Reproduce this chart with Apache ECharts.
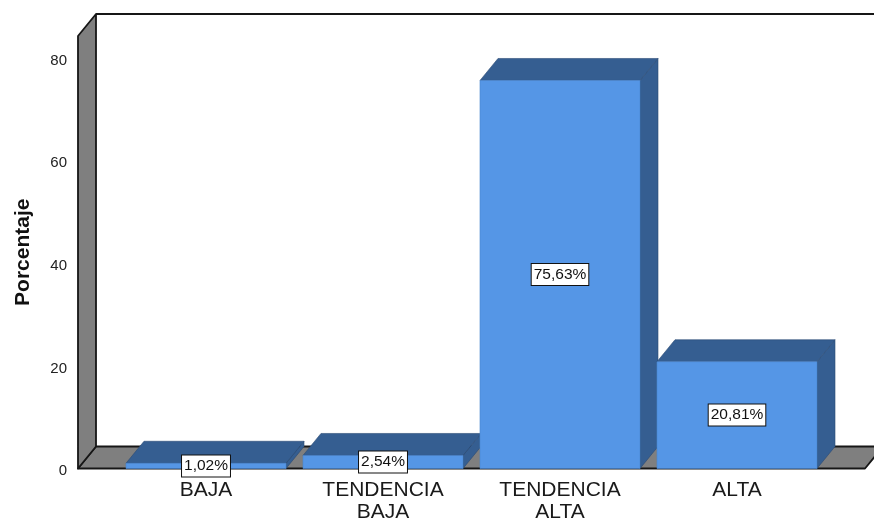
<!DOCTYPE html>
<html>
<head>
<meta charset="utf-8">
<script src="https://cdn.jsdelivr.net/npm/echarts@6/dist/echarts.min.js"></script>
<style>
  html, body { margin: 0; padding: 0; background: #ffffff; }
  #chart { width: 874px; height: 520px; }
</style>
</head>
<body>
<div id="chart"></div>
<script>
// Nivel alcanzado (porcentaje de casos)
const categories = ['BAJA', 'TENDENCIA\nBAJA', 'TENDENCIA\nALTA', 'ALTA'];
const percentages = [1.02, 2.54, 75.63, 20.81];
const yTicks = [0, 20, 40, 60, 80];
const yAxisMax = 84.3;

// Styling for the pseudo-3D look
const FRONT = '#5596e6';
const SHADE = '#355e91';
const EDGE = '#2a4a73';
const WALL = '#7f7f7f';
const LINE = '#161616';
const DX = 18;          // depth offset, horizontal
const DY = 22;          // depth offset, vertical
const BAR_RATIO = 0.904;
const WALL_PAD = 39.5;  // room extends past the first/last category band
const FONT = '"Liberation Sans", Arial, sans-serif';

function fmtPct(v) {
  return v.toFixed(2).replace('.', ',') + '%';
}

function renderRoom(params, api) {
  const cs = params.coordSys;
  const yb = api.coord([0, 0])[1];
  const yt = api.coord([0, yAxisMax])[1];
  const L = cs.x - WALL_PAD;
  const R = cs.x + cs.width + WALL_PAD;
  const lineStyle = { fill: WALL, stroke: LINE, lineWidth: 1.8, lineJoin: 'round' };
  return {
    type: 'group',
    children: [
      { type: 'polygon', shape: { points: [[L, yb], [R, yb], [R + DX, yb - DY], [L + DX, yb - DY]] }, style: lineStyle },
      { type: 'polygon', shape: { points: [[L, yb], [L, yt], [L + DX, yt - DY], [L + DX, yb - DY]] }, style: lineStyle },
      { type: 'line', shape: { x1: L + DX, y1: yt - DY, x2: R + DX, y2: yt - DY }, style: { stroke: LINE, lineWidth: 1.8 } }
    ]
  };
}

function renderBar(params, api) {
  const i = api.value(0);
  const v = api.value(1);
  const top = api.coord([i, v]);
  const base = api.coord([i, 0]);
  const band = api.size([1, 0])[0];
  const w = band * BAR_RATIO;
  const x0 = top[0] - w / 2;
  const x1 = top[0] + w / 2;
  const yt = top[1];
  const yb = base[1];
  return {
    type: 'group',
    children: [
      { type: 'polygon', shape: { points: [[x1, yt], [x1 + DX, yt - DY], [x1 + DX, yb - DY], [x1, yb]] },
        style: { fill: SHADE, stroke: EDGE, lineWidth: 0.6 } },
      { type: 'polygon', shape: { points: [[x0, yt], [x0 + DX, yt - DY], [x1 + DX, yt - DY], [x1, yt]] },
        style: { fill: SHADE, stroke: EDGE, lineWidth: 0.6 } },
      { type: 'rect', shape: { x: x0, y: yt, width: w, height: yb - yt },
        style: { fill: FRONT, stroke: '#4a86d0', lineWidth: 0.6 } },
      { type: 'text', x: top[0], y: (yt + yb) / 2,
        style: {
          text: fmtPct(v), fill: '#111', fontSize: 15.5, fontFamily: FONT,
          align: 'center', verticalAlign: 'middle',
          backgroundColor: '#ffffff', borderColor: '#111', borderWidth: 1,
          padding: [3, 2, 2, 2]
        } }
    ]
  };
}

const chart = echarts.init(document.getElementById('chart'), null, { renderer: 'canvas' });
chart.setOption({
  animation: false,
  backgroundColor: '#ffffff',
  grid: { left: 117.5, right: 48.5, top: 36, bottom: 51.5, outerBoundsMode: 'none', containLabel: false },
  xAxis: {
    type: 'category',
    data: categories,
    axisLine: { show: false },
    axisTick: { show: false },
    splitLine: { show: false },
    axisLabel: {
      interval: 0, margin: 11, fontSize: 21, lineHeight: 22,
      color: '#1a1a1a', fontFamily: FONT
    }
  },
  yAxis: {
    type: 'value',
    min: 0,
    max: yAxisMax,
    interval: 20,
    name: 'Porcentaje',
    nameLocation: 'middle',
    nameGap: 84,
    nameTextStyle: { fontSize: 21, fontWeight: 'bold', color: '#111', fontFamily: FONT },
    axisLine: { show: false },
    axisTick: { show: false },
    splitLine: { show: false },
    axisLabel: {
      margin: 50.5, fontSize: 15, color: '#222', fontFamily: FONT,
      verticalAlign: 'top', lineHeight: 5,
      formatter: function (val) { return yTicks.indexOf(val) >= 0 ? String(val) : ''; }
    }
  },
  series: [
    {
      type: 'custom',
      z: 1,
      clip: false,
      silent: true,
      renderItem: renderRoom,
      data: [[0, 0]]
    },
    {
      type: 'custom',
      z: 2,
      clip: false,
      renderItem: renderBar,
      encode: { x: 0, y: 1 },
      data: percentages.map(function (v, i) { return [i, v]; })
    }
  ]
});
</script>
</body>
</html>
